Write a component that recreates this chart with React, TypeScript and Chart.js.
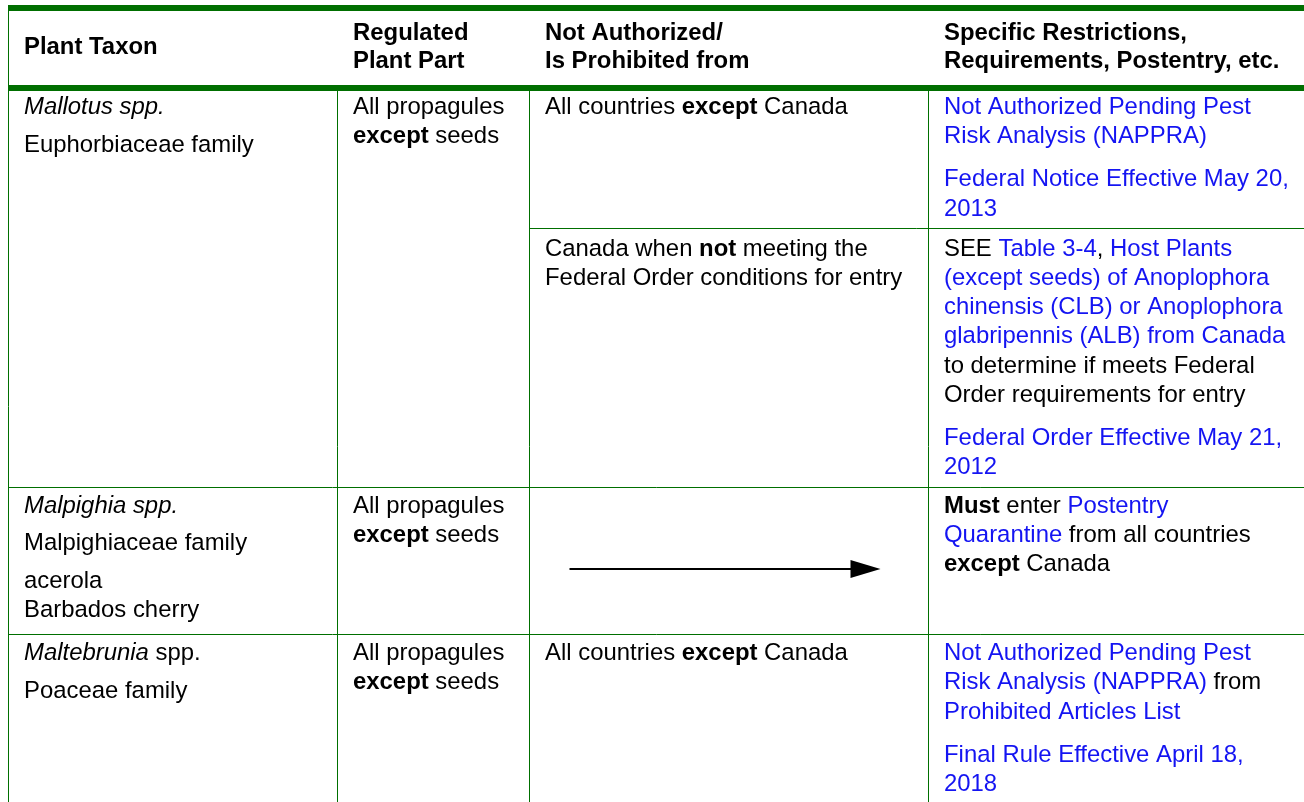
import React, { useEffect, useRef } from "react";
import { Chart, registerables } from "chart.js";

Chart.register(...registerables);

type Run = { t: string; b?: boolean; i?: boolean; link?: boolean };
type Line = Run[];
type Para = Line[];
type SubCell = Para[] | "arrow";

// ---------- DATA ----------
const headerLabels: string[][] = [
  ["Plant Taxon"],
  ["Regulated", "Plant Part"],
  ["Not Authorized/", "Is Prohibited from"],
  ["Specific Restrictions,", "Requirements, Postentry, etc."],
];

const taxonCells: Para[][] = [
  [[[{ t: "Mallotus spp.", i: true }]], [[{ t: "Euphorbiaceae family" }]]],
  [
    [[{ t: "Malpighia spp.", i: true }]],
    [[{ t: "Malpighiaceae family" }]],
    [[{ t: "acerola" }], [{ t: "Barbados cherry" }]],
  ],
  [[[{ t: "Maltebrunia", i: true }, { t: " spp." }]], [[{ t: "Poaceae family" }]]],
];

const partCells: Para[][] = [
  [[[{ t: "All propagules" }], [{ t: "except", b: true }, { t: " seeds" }]]],
  [[[{ t: "All propagules" }], [{ t: "except", b: true }, { t: " seeds" }]]],
  [[[{ t: "All propagules" }], [{ t: "except", b: true }, { t: " seeds" }]]],
];

const prohibitedCells: SubCell[][] = [
  [
    [[[{ t: "All countries " }, { t: "except", b: true }, { t: " Canada" }]]],
    [[
      [{ t: "Canada when " }, { t: "not", b: true }, { t: " meeting the" }],
      [{ t: "Federal Order conditions for entry" }],
    ]],
  ],
  ["arrow"],
  [[[[{ t: "All countries " }, { t: "except", b: true }, { t: " Canada" }]]]],
];

const restrictionCells: SubCell[][] = [
  [
    [
      [[{ t: "Not Authorized Pending Pest", link: true }], [{ t: "Risk Analysis (NAPPRA)", link: true }]],
      [[{ t: "Federal Notice Effective May 20,", link: true }], [{ t: "2013", link: true }]],
    ],
    [
      [
        [{ t: "SEE " }, { t: "Table 3-4", link: true }, { t: ", " }, { t: "Host Plants", link: true }],
        [{ t: "(except seeds) of Anoplophora", link: true }],
        [{ t: "chinensis (CLB) or Anoplophora", link: true }],
        [{ t: "glabripennis (ALB) from Canada", link: true }],
        [{ t: "to determine if meets Federal" }],
        [{ t: "Order requirements for entry" }],
      ],
      [[{ t: "Federal Order Effective May 21,", link: true }], [{ t: "2012", link: true }]],
    ],
  ],
  [
    [
      [
        [{ t: "Must", b: true }, { t: " enter " }, { t: "Postentry", link: true }],
        [{ t: "Quarantine", link: true }, { t: " from all countries" }],
        [{ t: "except", b: true }, { t: " Canada" }],
      ],
    ],
  ],
  [
    [
      [
        [{ t: "Not Authorized Pending Pest", link: true }],
        [{ t: "Risk Analysis (NAPPRA)", link: true }, { t: " from" }],
        [{ t: "Prohibited Articles List", link: true }],
      ],
      [[{ t: "Final Rule Effective April 18,", link: true }], [{ t: "2018", link: true }]],
    ],
  ],
];

// ---------- LAYOUT / STYLE ----------
const W = 1304;
const H = 802;
const TABLE_LEFT = 8.5;
const TABLE_TOP = 8;
const COL_WIDTHS = [329, 192, 399, 420];
const PAD_X = 15.5;
const FONT_SIZE = 23.9;
const FONT_FAMILY = '"Liberation Sans", Arial, Helvetica, sans-serif';
const LH = 29.2;
const HEADER_LH = 28;
const FIRST_OFF = 26;
const SUB_FIRST_OFF = 27.7;
const PARA_EXTRA = [8.4, 8.4, 8.4, 14];
const TRAILING = [17, 12.5, 12.5, 12.5];
const GREEN = "#006F00";
const BLUE = "#1414F2";
const TEXT = "#000000";
const THICK = 6;

function cellHeight(c: SubCell, col: number, firstOff: number): number {
  if (c === "arrow") return 0;
  const nLines = c.reduce((s, p) => s + p.length, 0);
  return firstOff + (nLines - 1) * LH + (c.length - 1) * PARA_EXTRA[col] + TRAILING[col];
}

function fontFor(r: Run) {
  return `${r.i ? "italic " : ""}${r.b ? "bold " : ""}${FONT_SIZE}px ${FONT_FAMILY}`;
}

const tablePlugin = {
  id: "tableDraw",
  afterDraw(chart: any) {
    const ctx: CanvasRenderingContext2D = chart.ctx;
    const xs = chart.scales.x;
    const ys = chart.scales.y;
    const px = (v: number) => xs.getPixelForValue(v);
    const py = (v: number) => ys.getPixelForValue(v);
    const snap = (v: number) => Math.round(v) + 0.5;

    const colL: number[] = [];
    let acc = TABLE_LEFT;
    COL_WIDTHS.forEach((w) => {
      colL.push(acc);
      acc += w;
    });
    const colR = colL.map((l, i) => l + COL_WIDTHS[i]);

    // header geometry
    const maxHeaderLines = Math.max(...headerLabels.map((h) => h.length));
    const headerH = 32 + (maxHeaderLines - 1) * HEADER_LH + 20;
    const headerBottom = TABLE_TOP + headerH;

    // rows geometry
    type RowGeo = { top: number; bottom: number; subs: { top: number; bottom: number }[] };
    const rows: RowGeo[] = [];
    let y = headerBottom;
    for (let r = 0; r < taxonCells.length; r++) {
      const nSubs = Math.max(prohibitedCells[r].length, restrictionCells[r].length);
      const subs: { top: number; bottom: number }[] = [];
      let sy = y;
      for (let s = 0; s < nSubs; s++) {
        const off = s === 0 ? FIRST_OFF : SUB_FIRST_OFF;
        const h = Math.max(
          prohibitedCells[r][s] ? cellHeight(prohibitedCells[r][s], 2, off) : 0,
          restrictionCells[r][s] ? cellHeight(restrictionCells[r][s], 3, off) : 0
        );
        subs.push({ top: sy, bottom: sy + h });
        sy += h;
      }
      const h1 = cellHeight(taxonCells[r], 0, FIRST_OFF);
      const h2 = cellHeight(partCells[r], 1, FIRST_OFF);
      const bottom = Math.max(sy, y + h1, y + h2);
      subs[subs.length - 1].bottom = bottom;
      rows.push({ top: y, bottom, subs });
      y = bottom;
    }

    ctx.save();
    // ---- lines ----
    ctx.fillStyle = GREEN;
    ctx.strokeStyle = GREEN;
    ctx.lineWidth = 1;
    const xEnd = px(W);
    ctx.fillRect(px(TABLE_LEFT - 0.5), py(TABLE_TOP) - THICK / 2, xEnd - px(TABLE_LEFT - 0.5), THICK);
    ctx.fillRect(px(TABLE_LEFT - 0.5), py(headerBottom) - THICK / 2, xEnd - px(TABLE_LEFT - 0.5), THICK);
    ctx.beginPath();
    ctx.moveTo(snap(px(TABLE_LEFT) - 0.5), py(TABLE_TOP) + THICK / 2);
    ctx.lineTo(snap(px(TABLE_LEFT) - 0.5), py(H));
    for (let c = 1; c < COL_WIDTHS.length; c++) {
      const x = snap(px(colL[c]) - 0.5);
      ctx.moveTo(x, py(headerBottom) + THICK / 2);
      ctx.lineTo(x, py(H));
    }
    rows.forEach((row, ri) => {
      if (ri > 0) {
        const yy = snap(py(row.top));
        ctx.moveTo(px(TABLE_LEFT), yy);
        ctx.lineTo(xEnd, yy);
      }
      row.subs.forEach((s, si) => {
        if (si > 0) {
          const yy = snap(py(s.top));
          ctx.moveTo(snap(px(colL[2]) - 0.5), yy);
          ctx.lineTo(xEnd, yy);
        }
      });
    });
    ctx.stroke();

    // ---- text ----
    ctx.textBaseline = "alphabetic";
    ctx.textAlign = "left";
    const drawLine = (line: Line, x0: number, by: number) => {
      let x = x0;
      line.forEach((r) => {
        ctx.font = fontFor(r);
        ctx.fillStyle = r.link ? BLUE : TEXT;
        ctx.fillText(r.t, x, by);
        x += ctx.measureText(r.t).width;
      });
    };
    const drawCell = (c: SubCell, col: number, top: number, bottom: number, off: number) => {
      if (c === "arrow") {
        const L = px(colL[col]) + 40;
        const R = px(colR[col]) - 48;
        const ay = Math.round(py(top + (bottom - top) * 0.56));
        ctx.strokeStyle = TEXT;
        ctx.lineWidth = 2;
        ctx.beginPath();
        ctx.moveTo(L, ay);
        ctx.lineTo(R - 28, ay);
        ctx.stroke();
        ctx.fillStyle = TEXT;
        ctx.beginPath();
        ctx.moveTo(R - 30, ay - 9);
        ctx.lineTo(R, ay);
        ctx.lineTo(R - 30, ay + 9);
        ctx.closePath();
        ctx.fill();
        return;
      }
      let by = top + off;
      c.forEach((p, pi) => {
        if (pi > 0) by += PARA_EXTRA[col];
        p.forEach((line, li) => {
          if (li > 0 || pi > 0) by += LH;
          drawLine(line, px(colL[col] + PAD_X), py(by));
        });
      });
    };

    const headerMidBaseline = TABLE_TOP + headerH / 2 + 6;
    headerLabels.forEach((lines, c) => {
      const first = headerMidBaseline - ((lines.length - 1) * HEADER_LH) / 2;
      lines.forEach((t, li) => {
        drawLine([{ t, b: true }], px(colL[c] + PAD_X), py(first + li * HEADER_LH));
      });
    });

    rows.forEach((row, r) => {
      drawCell(taxonCells[r], 0, row.top, row.bottom, FIRST_OFF);
      drawCell(partCells[r], 1, row.top, row.bottom, FIRST_OFF);
      row.subs.forEach((s, si) => {
        const off = si === 0 ? FIRST_OFF : SUB_FIRST_OFF;
        if (prohibitedCells[r][si]) drawCell(prohibitedCells[r][si], 2, s.top, s.bottom, off);
        if (restrictionCells[r][si]) drawCell(restrictionCells[r][si], 3, s.top, s.bottom, off);
      });
    });
    ctx.restore();
  },
};

export default function App() {
  const ref = useRef<HTMLCanvasElement | null>(null);
  useEffect(() => {
    if (!ref.current) return;
    const chart = new Chart(ref.current, {
      type: "scatter",
      data: { datasets: [] },
      options: {
        animation: false,
        responsive: false,
        maintainAspectRatio: false,
        devicePixelRatio: 1,
        layout: { padding: 0 },
        plugins: { legend: { display: false }, tooltip: { enabled: false } },
        scales: {
          x: { type: "linear", min: 0, max: W, display: false },
          y: { type: "linear", min: 0, max: H, reverse: true, display: false },
        },
      },
      plugins: [tablePlugin],
    } as any);
    return () => chart.destroy();
  }, []);
  return (
    <div style={{ position: "fixed", left: 0, top: 0, width: W, height: H, background: "#fff" }}>
      <canvas ref={ref} width={W} height={H} style={{ width: W, height: H, display: "block" }} />
    </div>
  );
}
